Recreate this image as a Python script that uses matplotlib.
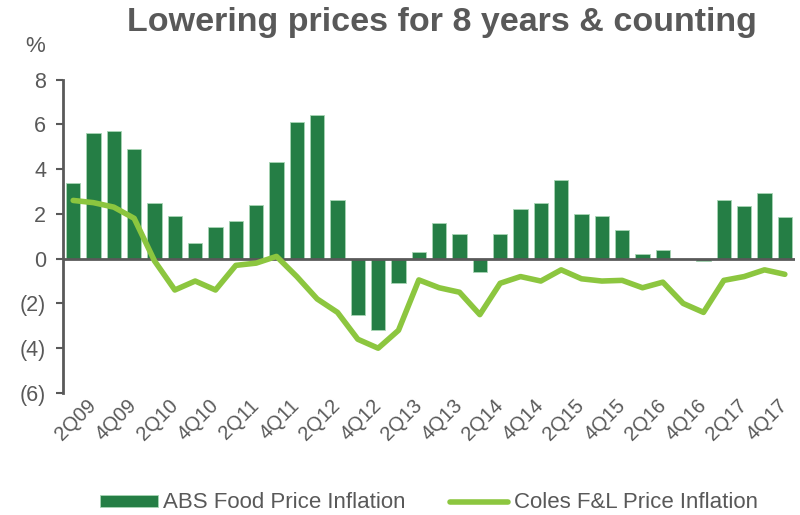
import matplotlib
matplotlib.use("Agg")
import matplotlib.pyplot as plt
from matplotlib import font_manager as fm
import numpy as np

quarters = [f"{q}Q{y:02d}" for y in range(9, 18) for q in range(1, 5)]
abs_food = [3.4, 5.6, 5.7, 4.9, 2.5, 1.9, 0.7, 1.4, 1.7, 2.4, 4.3, 6.1, 6.4, 2.6,
            -2.5, -3.2, -1.1, 0.3, 1.6, 1.1, -0.6, 1.1, 2.2, 2.5, 3.5, 2.0, 1.9,
            1.3, 0.2, 0.4, 0.0, -0.1, 2.6, 2.35, 2.95, 1.85]
coles = [2.6, 2.5, 2.3, 1.8, -0.1, -1.4, -1.0, -1.4, -0.3, -0.2, 0.1, -0.8, -1.8,
         -2.4, -3.6, -4.0, -3.2, -0.95, -1.3, -1.5, -2.5, -1.1, -0.8, -1.0, -0.5,
         -0.9, -1.0, -0.97, -1.3, -1.05, -2.0, -2.4, -0.97, -0.8, -0.5, -0.7]
yticks = [8, 6, 4, 2, 0, -2, -4, -6]

names = {f.name for f in fm.fontManager.ttflist}
fam = "Liberation Sans Narrow" if "Liberation Sans Narrow" in names else "Liberation Sans"
plt.rcParams["font.family"] = [fam, "DejaVu Sans"]

gray = "#595959"
bar_c = "#257E45"
line_c = "#8CC63F"

fig = plt.figure(figsize=(8, 5.15), dpi=100)
ax = fig.add_axes([63/800, 1-393/515, (795-63)/800, (393-79.5)/515])
x = np.arange(len(quarters))
bars = ax.bar(x, abs_food, width=0.69, color=bar_c, edgecolor="#A8D5B5", linewidth=0.6,
              label="ABS Food Price Inflation", zorder=2)
line, = ax.plot(x, coles, color=line_c, linewidth=4, solid_capstyle="round",
                solid_joinstyle="round", label="Coles F&L Price Inflation", zorder=3)
ax.axhline(0, color=gray, linewidth=2, zorder=2.5)

ax.set_xlim(-0.5, len(quarters) - 0.5)
ax.set_ylim(-6, 8)
ax.set_yticks(yticks)
ax.set_yticklabels([str(v) if v >= 0 else f"({-v})" for v in yticks],
                   fontsize=15.5, color=gray)
ax.tick_params(axis="y", direction="out", length=5, width=1.5, color=gray, pad=7)
ax.set_xticks(x[1::2])
ax.set_xticklabels(quarters[1::2], rotation=45, ha="right", va="center",
                   rotation_mode="anchor", fontsize=14.5, color=gray)
ax.tick_params(axis="x", length=0, pad=7)
for s in ["top", "right", "bottom"]:
    ax.spines[s].set_visible(False)
ax.spines["left"].set_color(gray)
ax.spines["left"].set_linewidth(2)

fig.text(442/800, 1-22/515, "Lowering prices for 8 years & counting", ha="center",
         va="center", fontsize=24.5, fontweight="bold", color=gray)
fig.text(35/800, 1-46/515, "%", ha="center", va="center", fontsize=16, color=gray)

fig.legend([bars, line], ["ABS Food Price Inflation", "Coles F&L Price Inflation"],
           loc="center", bbox_to_anchor=(0.536, 1-503/515), ncol=2, frameon=False,
           fontsize=16, labelcolor=gray, handlelength=2.6, handleheight=0.45,
           columnspacing=2.0, handletextpad=0.25)

fig.savefig("out.png", dpi=100)
